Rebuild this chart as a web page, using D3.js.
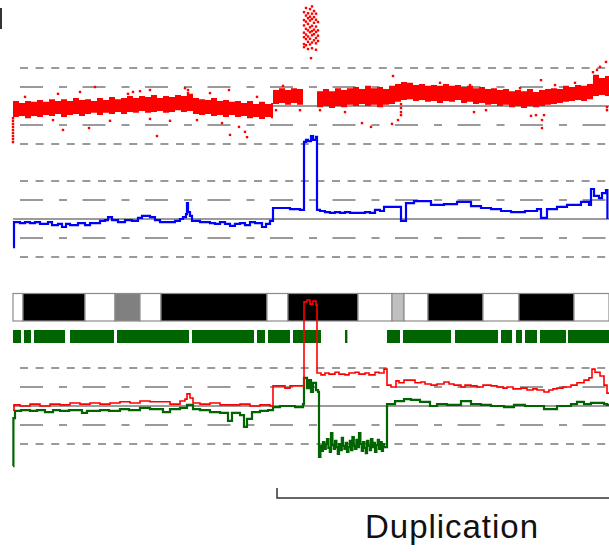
<!DOCTYPE html>
<html><head><meta charset="utf-8">
<script src="https://cdn.jsdelivr.net/npm/d3@7"></script>
<style>body{margin:0;background:#fff}svg{display:block}</style>
</head><body><svg id="c" width="609" height="552"></svg>
<script>
// ---------------- DATA ----------------
// chromosome ideogram bands (Mb)
const bandStart = [0, 2.5, 18, 25.5, 31.75, 37, 63.5, 68.75, 86.25, 94.75, 97.75, 103.75, 117.5, 126.5, 140.25];
const bandEnd   = [2.5, 18, 25.5, 31.75, 37, 63.5, 68.75, 86.25, 94.75, 97.75, 103.75, 117.5, 126.5, 140.25, 149];
const bandStain = ["gneg","gpos100","gneg","gpos50","gneg","gpos100","gneg","gpos100","gneg","gpos25","gneg","gpos100","gneg","gpos100","gneg"];
// probe coverage segments (Mb)
const covStart = [0, 2.75, 5.25, 14.25, 26, 44.75, 61, 63.75, 70, 83, 93.5, 97.5, 110.5, 122, 125.75, 128, 131.75, 138.75];
const covEnd   = [2, 4.5, 13, 25.25, 44, 60.25, 63, 69.25, 77, 83.6, 96.75, 109.5, 121.25, 124.75, 127.25, 131, 138.25, 149];
// guide levels (log2 ratio)
const guideLevels = [1, 0.5, 0, -0.5, -1];
// panel 1: probe log2 ratio cloud envelope [Mb, upper, lower]
const cloudEnvelope = [[0,0.13,-0.29],[1.5,0.08,-0.26],[3,0.13,-0.32],[4.5,0.11,-0.26],[6,0.16,-0.29],[7.5,0.11,-0.24],[9,0.18,-0.26],[10.5,0.13,-0.21],[12,0.18,-0.29],[13.5,0.13,-0.24],[15,0.21,-0.21],[16.5,0.16,-0.26],[18,0.18,-0.21],[19.5,0.13,-0.18],[21,0.21,-0.24],[22.5,0.16,-0.18],[24,0.24,-0.21],[25.5,0.18,-0.16],[27,0.21,-0.21],[28.5,0.26,-0.16],[30,0.21,-0.18],[31.5,0.26,-0.13],[33,0.24,-0.18],[34.5,0.29,-0.16],[36,0.21,-0.13],[37.5,0.26,-0.18],[39,0.24,-0.16],[40.5,0.29,-0.11],[42,0.26,-0.16],[43.5,0.32,-0.13],[45,0.21,-0.21],[46.5,0.18,-0.24],[48,0.16,-0.21],[49.5,0.21,-0.26],[51,0.13,-0.24],[52.5,0.16,-0.29],[54,0.11,-0.24],[55.5,0.13,-0.29],[57,0.08,-0.26],[58.5,0.13,-0.32],[60,0.05,-0.29],[61.5,0.11,-0.34],[63,0.05,-0.29],[64.5,0.08,-0.32],[65,0.42,0.05],[66.5,0.47,0.08],[68,0.42,0.03],[69.5,0.47,0.08],[71,0.45,0.03],[72.5,0.39,0.05],[73.5,null,null],[76,0.39,-0.03],[77.5,0.45,0],[79,0.39,-0.05],[80.5,0.47,0],[82,0.42,-0.03],[83.5,0.47,0.03],[85,0.5,0],[86.5,0.45,0.05],[88,0.53,0],[89.5,0.47,0.03],[91,0.5,-0.03],[92.5,0.45,0.03],[94,0.53,0.05],[95.5,0.58,0.11],[97,0.63,0.16],[98.5,0.61,0.18],[100,0.55,0.13],[101.5,0.58,0.16],[103,0.53,0.11],[104.5,0.55,0.13],[106,0.53,0.08],[107.5,0.58,0.13],[109,0.53,0.11],[110.5,0.55,0.16],[112,0.5,0.08],[113.5,0.53,0.11],[115,0.47,0.05],[116.5,0.5,0.08],[118,0.45,0.03],[119.5,0.47,0.05],[121,0.42,0],[122.5,0.45,0.03],[124,0.39,-0.03],[125.5,0.42,0],[127,0.39,-0.05],[128.5,0.45,0],[130,0.37,-0.03],[131.5,0.42,0],[133,0.45,0.03],[134.5,0.47,0.05],[136,0.45,0.08],[137.5,0.53,0.11],[139,0.5,0.13],[140.5,0.55,0.16],[142,0.53,0.13],[143.5,0.58,0.18],[145,0.82,0.26],[146.5,0.74,0.29],[148,0.79,0.26],[149,0.68,0.24]];
// panel 1: scattered probes [Mb, log2]
const probeOutliers = [[0,-0.32],[0,-0.39],[0,-0.47],[0,-0.55],[0,-0.63],[0,-0.71],[0,-0.79],[0,-0.87],[0,-0.95],
 [20.5,0.5],[11.25,0.32],[28.75,0.32],[30,0.37],[3,0.24],[43,0.47],[43.75,0.42],[43.75,0.34],[43.75,0.26],[54,0.42],[61,0.24],
 [12.5,-0.63],[19,-0.58],[36,-0.79],[46,-0.37],[52.25,-0.45],[54.25,-0.76],[56.5,-0.55],[58,-0.68],[58.5,-0.82],[10,-0.37],
 [24.25,-0.39],[34.25,-0.34],[39.25,-0.39],[16.75,0.37],[34.25,0.42],[49.25,0.34],[31.75,0.39],[95,0.79],[132,0.68],
 [87.25,-0.45],[89.5,-0.55],[94.75,-0.47],[97,0.05],[97,-0.05],[97,-0.16],[97,-0.24],[115.25,-0.16],[118.25,-0.11],
 [129.5,-0.26],[130.75,-0.24],[132.25,-0.37],[132.25,-0.58],[132.75,-0.24],[148.25,1.16],[148.5,-0.03],[148.5,-0.11],
 [74.5,1.26],[67.5,0.53],[65.75,-0.11],[71.75,-0.11],[76.75,-0.11],[83,-0.16],[106.75,0.61],[114.25,0.55],[126.75,0.47],
 [135.5,0.55],[140.5,0.61],[146,0.95],[146.75,1.03],[145,0.89],[96.25,-0.37]];
// panel 1: amplified probes
const probeSpike = [[72.75,2.47],[72.75,2.26],[72.75,2.12],[72.75,1.93],[72.75,1.81],[72.75,1.63],[72.75,1.55],
 [73.25,2.58],[73.25,2.38],[73.25,2.22],[73.25,2.03],[73.25,1.88],[73.25,1.76],[73.25,1.6],
 [73.75,2.44],[73.75,2.31],[73.75,2.16],[73.75,1.99],[73.75,1.83],[73.75,1.69],[73.75,1.5],
 [74.25,2.55],[74.25,2.35],[74.25,2.25],[74.25,2.07],[74.25,1.94],[74.25,1.77],[74.25,1.62],
 [74.75,2.62],[74.75,2.43],[74.75,2.29],[74.75,2.11],[74.75,1.97],[74.75,1.86],[74.75,1.67],[74.75,1.52],
 [75.25,2.5],[75.25,2.34],[75.25,2.19],[75.25,2.01],[75.25,1.89],[75.25,1.73],
 [75.75,2.43],[75.75,2.27],[75.75,2.09],[75.75,1.95],[75.75,1.79],[75.75,1.65],[75.75,1.48],
 [76.25,2.21],[76.25,1.99],[76.25,1.85],[76.25,1.71]];
// panel 2: segmented copy number (blue)
const bluePos = [0,0.25,1.75,3,4.25,5.5,6.75,8.75,9.75,11.25,12.25,13.25,14.25,16.25,18,19.25,21.75,23,23.75,24.75,26.25,28,29.75,31.25,32.25,34.25,35.5,36.75,38.75,40.5,41.75,42.5,43.25,43.5,43.75,44.25,44.75,46.75,48,49.25,50.5,51.75,53,54.25,55.5,56.75,58,59.25,60.5,62.25,63.25,64.25,65,66.75,69.25,71.75,72.75,73.25,73.75,74.5,75,75.75,76,76.75,78,79.25,80.5,81.75,83,84.25,86.75,88,89.25,90.5,91.75,92.75,94,97,98.25,100.25,104.5,107.75,111,114.5,117,119.5,122,124.5,128,131,132,133.5,136,138.5,142,144,144.5,145.25,146.5,147.25,148.25,148.6];
const blueVal = [-0.74,-0.08,-0.11,-0.08,-0.11,-0.08,-0.13,-0.08,-0.16,-0.13,-0.21,-0.13,-0.16,-0.11,-0.16,-0.11,-0.05,-0.03,0.05,-0.03,-0.08,-0.03,-0.05,0.03,0.08,0.05,-0.03,-0.08,-0.08,-0.05,0,0.05,0.13,0.42,0.18,0.08,-0.05,-0.08,-0.08,-0.11,-0.13,-0.08,-0.13,-0.18,-0.13,-0.11,-0.16,-0.08,-0.11,-0.21,-0.13,-0.05,0.29,0.29,0.26,0.24,2.03,2.08,2.05,2.18,2.08,2.16,0.24,0.21,0.18,0.16,0.18,0.16,0.18,0.16,0.16,0.18,0.16,0.24,0.21,0.32,0.32,-0.05,0.42,0.47,0.37,0.39,0.45,0.34,0.29,0.26,0.21,0.18,0.21,0.26,0.03,0.26,0.32,0.37,0.45,0.37,0.79,0.61,0.55,0.68,0.76,0];
// panel 3: total (red) and allele-specific (green) segments [Mb, log2]
const redSeg = [[0,-0.11],[0.25,0.03],[1.75,0],[4.25,0.05],[6.75,0],[9.25,0.05],[11.75,0.03],[14.25,0.08],[16.75,0.05],[19.25,0.08],[21.75,0.05],[24.25,0.08],[26.75,0.11],[29.25,0.08],[31.75,0.13],[34.25,0.11],[36.75,0.11],[39.25,0.05],[41.75,0.13],[43,0.18],[43.5,0.32],[44.25,0.21],[45,0.08],[46.75,0.05],[49.25,0.08],[51.75,0.03],[54.25,0.03],[56.75,0.05],[59.25,0],[61.75,0.03],[64.25,0],[65,0.53],[68,0.47],[69.25,0.53],[72.75,2.74],[73.5,2.79],[74.25,2.68],[75,2.76],[75.75,2.66],[76,0.87],[77,0.82],[78,0.87],[79,0.84],[80.5,0.89],[81.5,0.84],[83,0.82],[84,0.87],[85.5,0.89],[86.5,0.84],[88,0.87],[89,0.82],[90.5,0.89],[91.5,0.87],[92.75,0.97],[93.5,0.55],[94.5,0.5],[95.75,0.66],[96.5,0.61],[97.75,0.68],[99.5,0.68],[100.5,0.61],[102,0.63],[103,0.58],[104.5,0.55],[106,0.58],[107.75,0.63],[109,0.58],[110.25,0.55],[112,0.5],[113,0.55],[114.5,0.53],[116,0.5],[117.5,0.55],[119.5,0.53],[121,0.5],[122.5,0.47],[123.5,0.5],[125,0.45],[127,0.47],[128.5,0.42],[130,0.45],[131,0.42],[132.75,0.37],[134,0.42],[135,0.45],[136,0.47],[137.5,0.5],[139.5,0.55],[141,0.61],[142.75,0.68],[144,0.74],[144.75,0.97],[145.5,0.89],[146.75,0.79],[147.75,0.55],[148.5,0.34],[149,0.34]];
const greenSeg = [[0,-1.58],[0.1,-0.32],[0.5,-0.13],[2,-0.11],[4.25,-0.13],[6,-0.11],[8,-0.16],[10,-0.11],[11.75,-0.13],[14,-0.11],[17.25,-0.18],[18.5,-0.13],[21.75,-0.11],[24,-0.13],[26.75,-0.08],[29,-0.11],[31.75,-0.05],[34.25,-0.08],[37.5,-0.16],[39.25,-0.08],[41.75,-0.05],[43.5,0.03],[45,-0.08],[46.75,-0.11],[49.25,-0.16],[51.75,-0.18],[53.75,-0.39],[54.75,-0.18],[56.75,-0.24],[57.75,-0.55],[58.5,-0.34],[59.75,-0.16],[61.75,-0.13],[63.75,-0.11],[65,-0.03],[66.75,0],[70.5,-0.03],[72.5,0.05],[72.75,0.74],[73.5,0.47],[74,0.68],[74.5,0.37],[75,0.61],[75.75,0.42],[76.25,0.37],
 [76.5,-1.34],[76.85,-1.05],[77.2,-1.18],[77.5,-0.95],[77.85,-1.13],[78.2,-1.0],[78.5,-0.87],[78.85,-1.1],[79.2,-1.21],[79.5,-0.71],[79.85,-1.03],[80.2,-1.13],[80.5,-0.92],[80.85,-1.08],[81.2,-1.26],[81.5,-1.0],[81.85,-1.16],[82.2,-0.84],[82.5,-1.05],[82.85,-1.13],[83.2,-0.97],[83.5,-1.21],[83.85,-1.08],[84.2,-0.92],[84.5,-1.16],[84.85,-0.82],[85.2,-1.05],[85.5,-1.13],[85.85,-0.89],[86.2,-1.08],[86.5,-0.71],[86.85,-1.0],[87.2,-1.18],[87.5,-0.95],[87.85,-1.1],[88.2,-1.24],[88.5,-0.92],[88.85,-1.05],[89.2,-1.16],[89.5,-0.87],[89.85,-1.08],[90.2,-0.97],[90.5,-1.21],[90.85,-1.03],[91.2,-0.89],[91.5,-1.13],[91.85,-0.95],[92.2,-1.18],[92.5,-1.0],[92.75,-1.08],
 [93.5,0.05],[95.5,0.13],[97.75,0.18],[99.5,0.16],[101.75,0.11],[104.25,0],[106,0.05],[108.5,0.03],[112,0.13],[114.5,0.05],[117,0.03],[119.5,0],[122.75,-0.03],[125.25,0.03],[128,0],[131,0],[132.75,-0.08],[136,0],[139.5,0.05],[141,0.11],[142.75,0.05],[144.5,0.08],[147.75,0.05],[148.5,0.03],[149,0.03]];
// annotation
const bracketStartMb = 66, bracketEndMb = 149;
const annotationLabel = "Duplication";

// ---------------- LAYOUT ----------------
const svg = d3.select("#c");
const x = d3.scaleLinear().domain([0, 149]).range([13, 609]);
const yTop  = d3.scaleLinear().domain([-1, 1]).range([144, 68]);
const yBlue = d3.scaleLinear().domain([-1, 1]).range([257, 181]);
const yLow  = d3.scaleLinear().domain([-1, 1]).range([444, 368]);
const stainColor = {gneg:"#ffffff", gpos25:"#c0c0c0", gpos50:"#808080", gpos100:"#000000"};

// panel marker (cut-off label at top left)
svg.append("rect").attr("x",0).attr("y",8).attr("width",2).attr("height",21).attr("fill","#333");

function guides(y) {
  const g = svg.append("g");
  guideLevels.forEach(l => {
    if (l === 0) {
      g.append("line").attr("x1", x(0)).attr("x2", x(149)).attr("y1", y(0)).attr("y2", y(0))
        .attr("stroke", "#7a7a7a").attr("stroke-width", 1.6);
    } else {
      g.append("line").attr("x1", x(0) + 7).attr("x2", x(149)).attr("y1", y(l)).attr("y2", y(l))
        .attr("stroke", "#9a9a9a").attr("stroke-width", 2)
        .attr("stroke-dasharray", Math.abs(l) === 1 ? "8,7.6" : "23,16,8,15.5");
    }
  });
}
guides(yTop); guides(yBlue); guides(yLow);

// panel 1: probe cloud
const cloudArea = d3.area()
  .defined(d => d[1] !== null)
  .x(d => x(d[0])).y0(d => yTop(d[2])).y1(d => yTop(d[1]))
  .curve(d3.curveStepAfter);
svg.append("path").datum(cloudEnvelope).attr("d", cloudArea).attr("fill", "#ff0000");
svg.append("g").selectAll("rect").data(probeOutliers.concat(probeSpike)).join("rect")
  .attr("x", d => x(d[0]) - 1.2).attr("y", d => yTop(d[1]) - 1.2)
  .attr("width", 2.4).attr("height", 2.4).attr("fill", "#ff0000");

// panel 2: blue segments
const stepLine = (ys) => d3.line().x(d => x(d[0])).y(d => ys(d[1])).curve(d3.curveStepAfter);
const blueData = bluePos.map((p, i) => [p, blueVal[i]]);
svg.append("path").datum(blueData).attr("d", stepLine(yBlue))
  .attr("fill", "none").attr("stroke", "#0000ff").attr("stroke-width", 2.2);

// ideogram
svg.append("g").selectAll("rect").data(bandStart).join("rect")
  .attr("x", (d) => x(d)).attr("y", 293.5)
  .attr("width", (d, i) => x(bandEnd[i]) - x(d)).attr("height", 27.5)
  .attr("fill", (d, i) => stainColor[bandStain[i]])
  .attr("stroke", "#8c8c8c").attr("stroke-width", 1.2);

// coverage segments
svg.append("g").selectAll("rect").data(covStart).join("rect")
  .attr("x", d => x(d)).attr("y", 330)
  .attr("width", (d, i) => x(covEnd[i]) - x(d)).attr("height", 13)
  .attr("fill", "#006400");

// panel 3 lines
svg.append("path").datum(greenSeg).attr("d", stepLine(yLow))
  .attr("fill", "none").attr("stroke", "#006400").attr("stroke-width", 2.2);
svg.append("path").datum(redSeg).attr("d", stepLine(yLow))
  .attr("fill", "none").attr("stroke", "#ff0000").attr("stroke-width", 1.6);

// bracket + label
svg.append("path")
  .attr("d", `M${x(bracketStartMb)},488 V498 H${x(bracketEndMb)}`)
  .attr("fill", "none").attr("stroke", "#333").attr("stroke-width", 1.5);
svg.append("text").attr("x", 365).attr("y", 538)
  .attr("font-family", "Liberation Sans, Arial, sans-serif").attr("font-size", 33)
  .attr("textLength", 173).attr("lengthAdjust", "spacing")
  .attr("fill", "#111").text(annotationLabel);
</script></body></html>
